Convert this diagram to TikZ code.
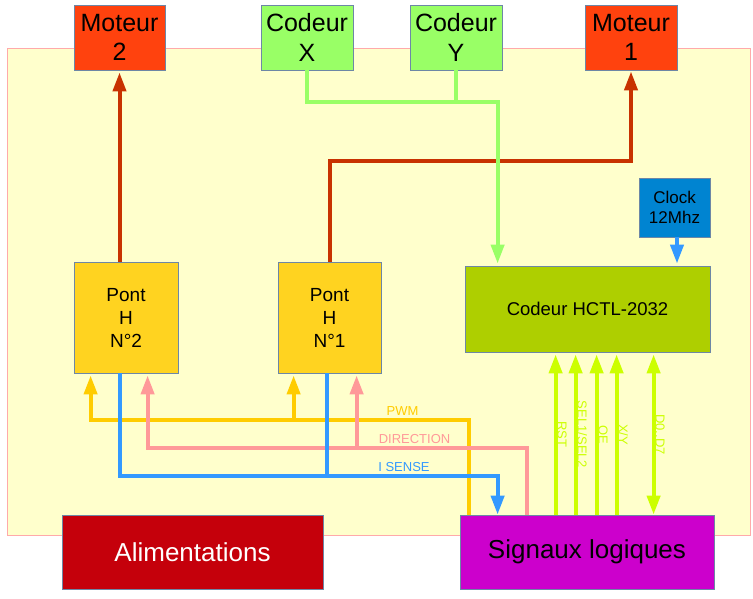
\documentclass[tikz,border=0pt]{standalone}
\usepackage{fontspec}
\setmainfont{Liberation Sans}
\usetikzlibrary{arrows.meta}
\definecolor{fond}{HTML}{FFFFCC}
\definecolor{fondbord}{HTML}{FFAAAA}
\definecolor{bord}{HTML}{6D87A6}
\definecolor{moteur}{HTML}{FF420E}
\definecolor{codeur}{HTML}{99FF66}
\definecolor{pont}{HTML}{FFD320}
\definecolor{hctl}{HTML}{AECF00}
\definecolor{horloge}{HTML}{0084D1}
\definecolor{alim}{HTML}{C5000B}
\definecolor{logique}{HTML}{CC00CC}
\definecolor{filmot}{HTML}{C83200}
\definecolor{pwm}{HTML}{FFCC00}
\definecolor{dir}{HTML}{FF9999}
\definecolor{isense}{HTML}{3399FF}
\definecolor{sig}{HTML}{CCFF00}
\begin{document}
\begin{tikzpicture}[x=1pt,y=-1pt,>={Triangle[length=19pt,width=13pt]},
	bloc/.style={draw=bord,line width=0.8pt,inner sep=0pt,align=center},
	fil/.style={line width=4pt},
	lbl/.style={font=\fontsize{13}{15}\selectfont,inner sep=0pt}]
	\useasboundingbox (0,0) rectangle (753,599);
	\draw[fill=fond,draw=fondbord,line width=1pt] (7,49) rectangle (750,535);
	\node[bloc,fill=moteur,minimum width=91,minimum height=65,font=\fontsize{25}{29.5}\selectfont] (moteur2) at (119.5,37.5) {Moteur\\2};
	\node[bloc,fill=codeur,minimum width=92,minimum height=65,font=\fontsize{25}{29.5}\selectfont] (codeurX) at (307,37.5) {Codeur\\X};
	\node[bloc,fill=codeur,minimum width=92,minimum height=65,font=\fontsize{25}{29.5}\selectfont] (codeurY) at (456,37.5) {Codeur\\Y};
	\node[bloc,fill=moteur,minimum width=92,minimum height=65,font=\fontsize{25}{29.5}\selectfont] (moteur1) at (631,37.5) {Moteur\\1};
	\node[bloc,fill=horloge,minimum width=71,minimum height=59,font=\fontsize{17}{20}\selectfont] (clock) at (674.5,207.5) {Clock\\12Mhz};
	\node[bloc,fill=pont,minimum width=104,minimum height=111,font=\fontsize{19}{23}\selectfont] (pont2) at (126,317.5) {Pont\\H\\N°2};
	\node[bloc,fill=pont,minimum width=103,minimum height=111,font=\fontsize{19}{23}\selectfont] (pont1) at (329.5,317.5) {Pont\\H\\N°1};
	\node[bloc,fill=hctl,minimum width=245,minimum height=86,font=\fontsize{18.5}{22}\selectfont] (hctl) at (587.5,309) {Codeur HCTL-2032};
	\node[bloc,fill=alim,text=white,minimum width=261,minimum height=74,font=\fontsize{26}{30}\selectfont] (alim) at (192.5,552) {Alimentations};
	\node[bloc,fill=logique,minimum width=254,minimum height=74,font=\fontsize{26}{30}\selectfont] (signaux) at (587,552) {Signaux logiques};
	\coordinate (ymot) at (0,161);
	\coordinate (ycod) at (0,102);
	\coordinate (ypwm) at (0,420);
	\coordinate (ydir) at (0,448);
	\coordinate (yis) at (0,476);
	\draw[fil,filmot,->] (pont2.north -| moteur2.south) -- ([yshift=-2pt]moteur2.south);
	\draw[fil,filmot,->] (pont1.north) -- (pont1.north |- ymot) -| ([yshift=-1pt]moteur1.south);
	\draw[fil,codeur,->] (codeurX.south) -- (codeurX.south |- ycod) -| ([xshift=33pt,yshift=2pt]hctl.north west);
	\draw[fil,codeur] (codeurY.south) -- (codeurY.south |- ycod);
	\draw[fil,isense,->] ([xshift=2.5pt]clock.south) -- ([xshift=2.5pt,yshift=2pt]clock.south |- hctl.north);
	\draw[fil,pwm,->] ([xshift=9pt]signaux.north west) -- ([xshift=9pt]signaux.north west |- ypwm) -| ([xshift=17pt,yshift=-2pt]pont2.south west);
	\draw[fil,pwm,->] ([xshift=16pt]pont1.south west |- ypwm) -- ([xshift=16pt,yshift=-2pt]pont1.south west);
	\draw[fil,dir,->] ([xshift=67pt]signaux.north west) -- ([xshift=67pt]signaux.north west |- ydir) -| ([xshift=74pt,yshift=-2pt]pont2.south west);
	\draw[fil,dir,->] ([xshift=79pt]pont1.south west |- ydir) -- ([xshift=79pt,yshift=-2pt]pont1.south west);
	\draw[fil,isense,->] ([xshift=46pt]pont2.south west) -- ([xshift=46pt]pont2.south west |- yis) -| ([xshift=38pt]signaux.north west);
	\draw[fil,isense] ([xshift=49pt]pont1.south west) -- ([xshift=49pt]pont1.south west |- yis);
	\node[lbl,text=pwm] (lpwm) at (402.5,411) {PWM};
	\node[lbl,text=dir] (ldir) at (414.5,439) {DIRECTION};
	\node[lbl,text=isense] (lis) at (404,467) {I SENSE};
	\foreach \dx in {96,116,137,157}
		\draw[fil,sig,->] ([xshift=\dx pt]signaux.north west) -- ([xshift=\dx pt,yshift=-2pt]signaux.north west |- hctl.south);
	\draw[fil,sig,<->] ([xshift=194pt]signaux.north west) -- ([xshift=194pt,yshift=-2pt]signaux.north west |- hctl.south);
	\foreach \dx/\txt in {96/RST,116/SEL1\slash SEL2,137/OE,157/X\slash Y,194/D0..D7}
		\node[lbl,text=sig,rotate=-90,anchor=base] at ([xshift=\dx pt+2pt,yshift=80pt]signaux.north west) {\txt};
\end{tikzpicture}
\end{document}
